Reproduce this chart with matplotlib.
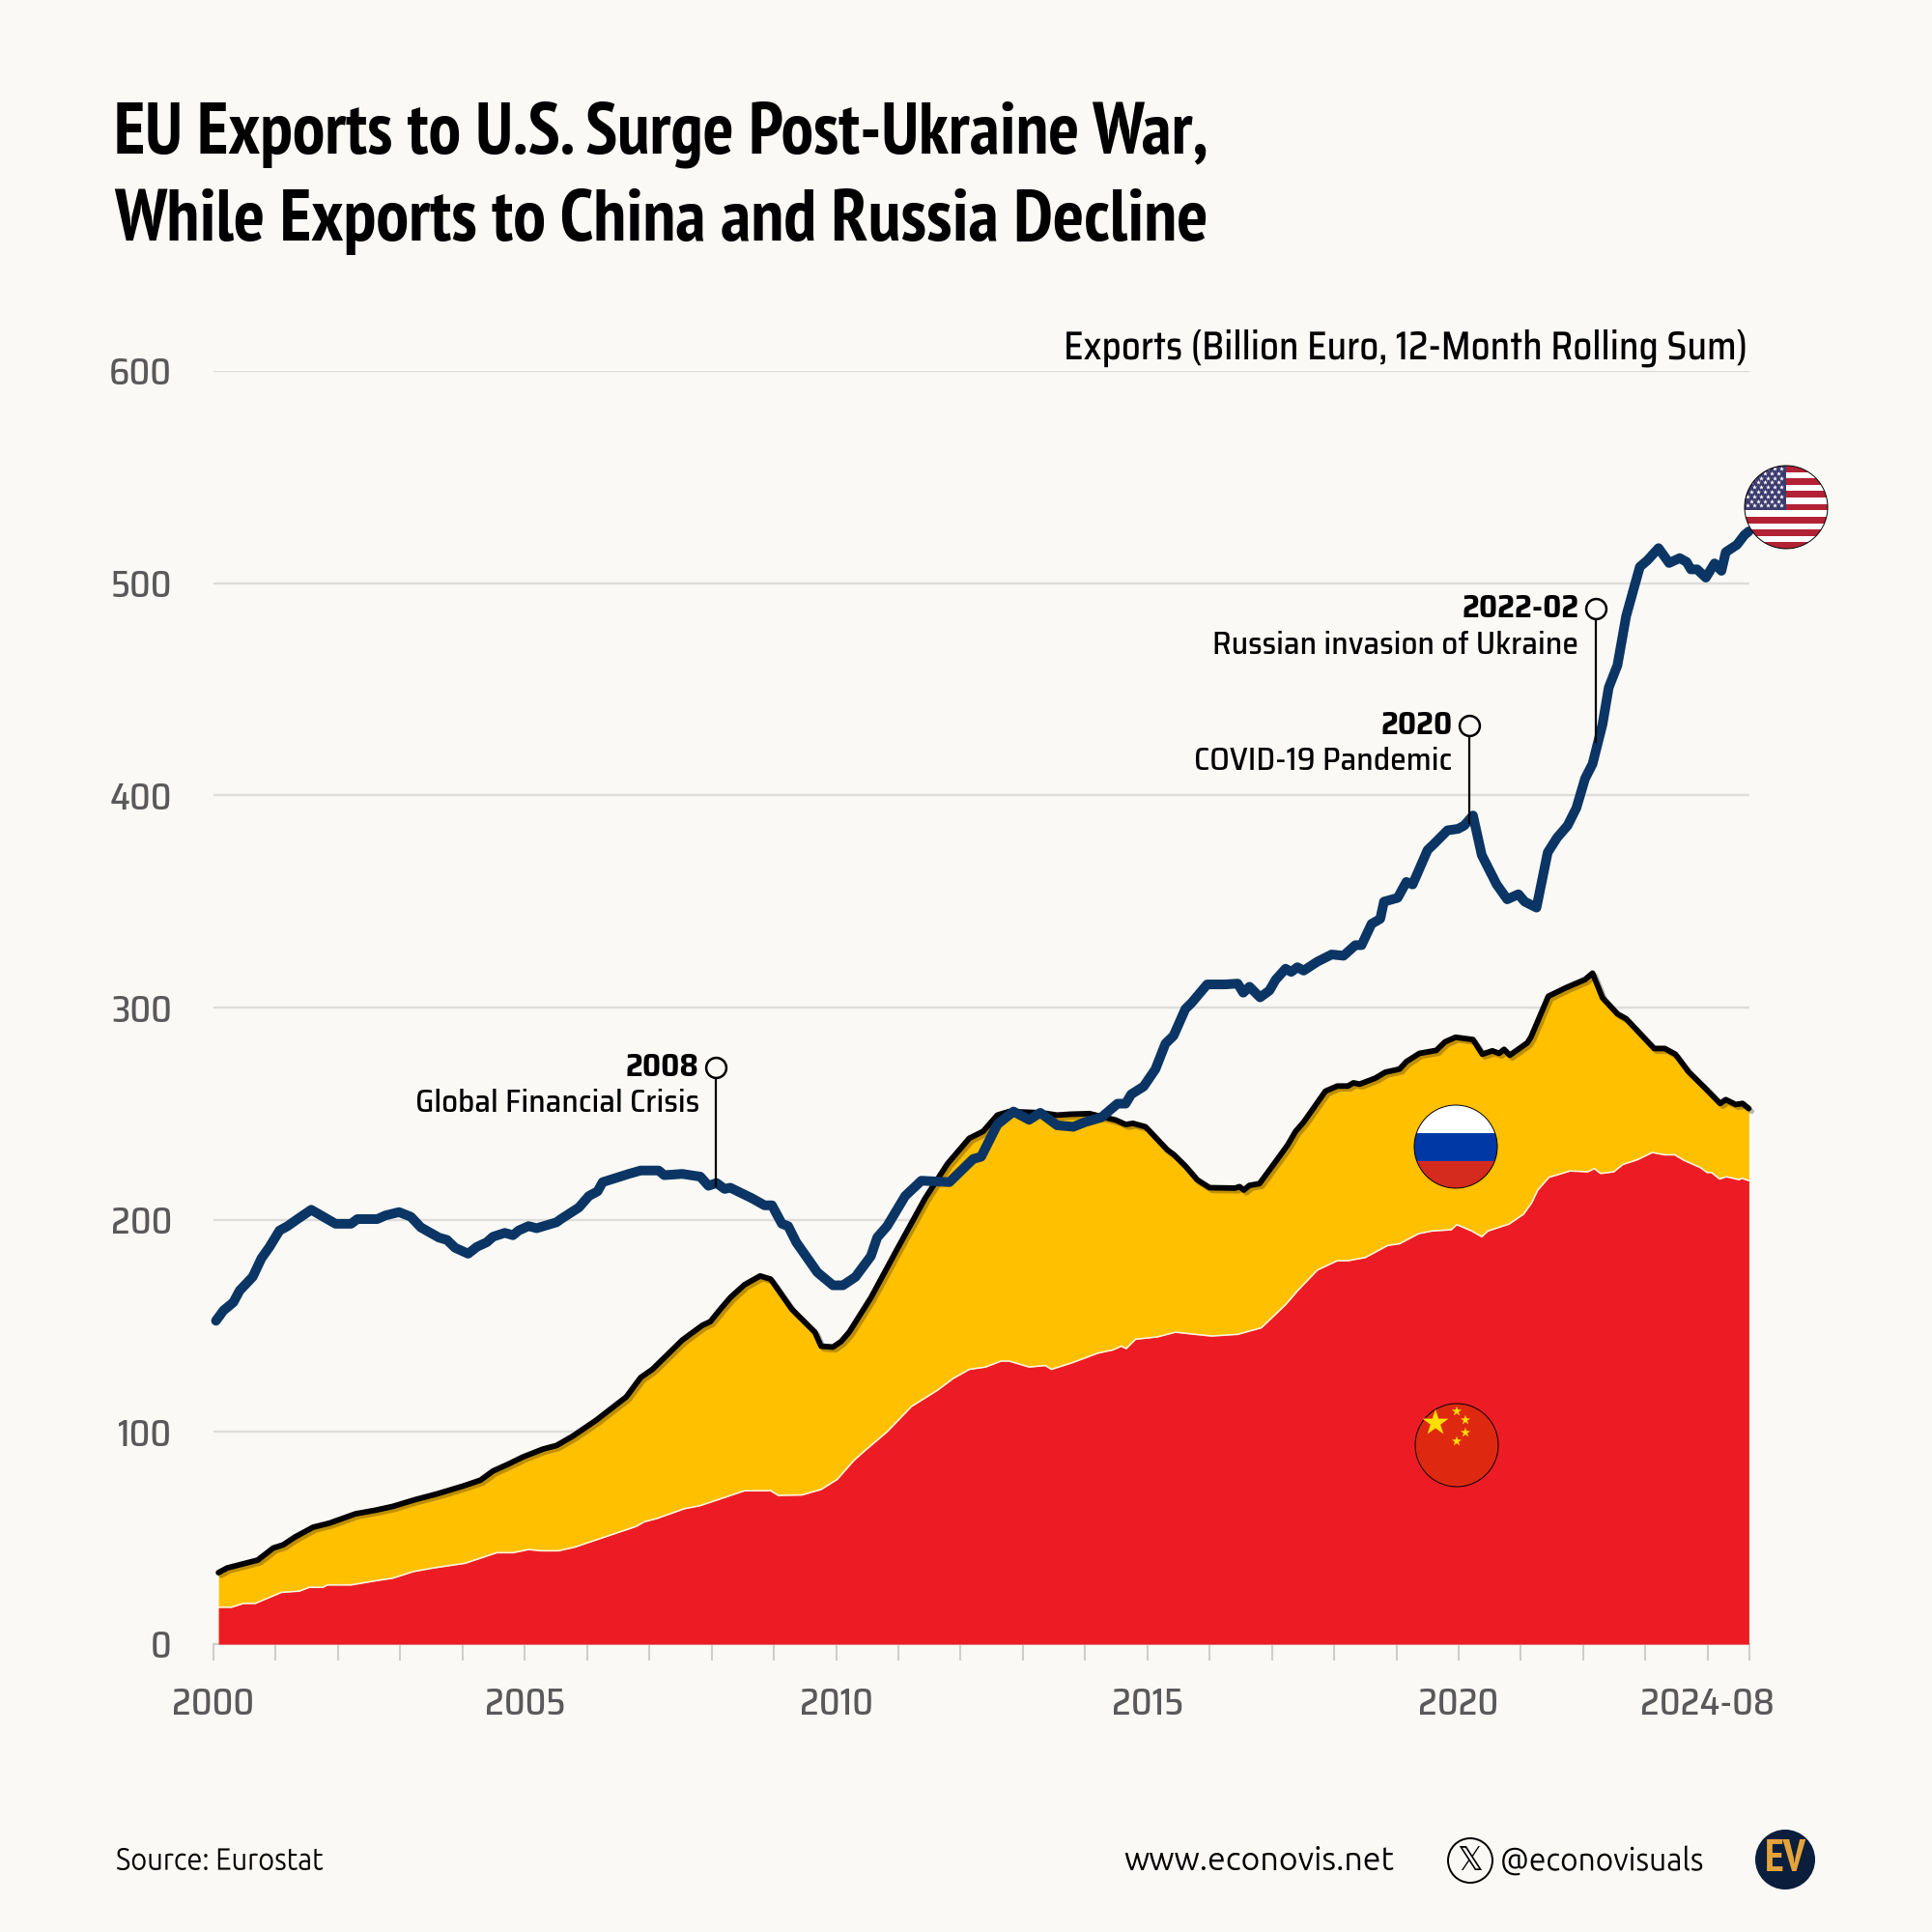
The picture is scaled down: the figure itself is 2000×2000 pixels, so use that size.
import numpy as np
import matplotlib
matplotlib.use("Agg")
from matplotlib import pyplot as plt
from matplotlib import patheffects as pe
from matplotlib.patches import Circle, Rectangle
from matplotlib.transforms import Affine2D

# data (year as decimal, billion euro)
us_years = [2000.04,2000.16,2000.32,2000.42,2000.63,2000.77,2000.90,2001.06,2001.19,2001.35,2001.57,2001.73,2001.96,2002.21,2002.31,2002.63,2002.76,2002.98,2003.17,2003.33,2003.62,2003.75,2003.88,2004.09,2004.23,2004.39,2004.49,2004.68,2004.81,2004.90,2005.06,2005.19,2005.51,2005.58,2005.87,2006.03,2006.17,2006.25,2006.67,2006.86,2007.15,2007.24,2007.53,2007.82,2007.95,2008.08,2008.21,2008.30,2008.65,2008.85,2008.97,2009.13,2009.23,2009.36,2009.70,2009.95,2010.11,2010.31,2010.56,2010.66,2010.82,2011.11,2011.37,2011.82,2012.20,2012.33,2012.59,2012.85,2013.10,2013.28,2013.55,2013.81,2014.00,2014.26,2014.52,2014.65,2014.74,2014.94,2015.13,2015.29,2015.42,2015.61,2015.71,2015.96,2016.25,2016.45,2016.54,2016.64,2016.81,2016.96,2017.06,2017.22,2017.31,2017.41,2017.51,2017.73,2017.96,2018.15,2018.34,2018.44,2018.60,2018.74,2018.80,2019.02,2019.16,2019.26,2019.50,2019.61,2019.82,2019.99,2020.09,2020.23,2020.37,2020.61,2020.78,2020.96,2021.06,2021.25,2021.43,2021.58,2021.75,2021.89,2022.03,2022.15,2022.31,2022.41,2022.55,2022.69,2022.91,2023.03,2023.21,2023.38,2023.55,2023.66,2023.73,2023.83,2023.97,2024.11,2024.22,2024.29,2024.47,2024.59,2024.66]
us_values = [152.4,157.2,161.1,166.6,173.1,181.8,187.2,194.9,197.0,200.3,204.7,202.0,198.1,198.1,200.3,200.3,202.0,203.6,201.4,196.4,191.6,190.5,186.8,184.0,187.2,189.4,192.0,193.8,192.7,194.9,197.0,196.0,198.8,200.3,205.8,211.2,213.4,217.7,221.6,223.2,223.2,221.0,221.6,220.3,216.0,217.3,214.5,215.1,210.1,206.8,206.8,198.1,197.0,189.4,175.2,169.1,169.1,173.0,182.9,191.6,197.0,211.2,218.4,217.7,228.6,229.7,244.9,251.0,247.1,250.4,244.5,243.8,246.0,248.2,254.7,254.7,259.1,262.8,271.0,283.0,286.7,299.3,302.2,310.9,310.9,311.3,307.0,309.8,304.8,308.0,313.1,318.3,316.8,319.0,317.4,321.6,325.0,324.4,329.4,329.4,339.4,341.8,349.9,351.7,359.2,358.0,374.2,377.3,383.5,384.2,385.8,390.5,371.9,358.0,351.0,353.4,349.9,347.1,373.1,380.0,385.8,394.0,407.9,414.8,433.4,450.8,461.3,484.5,507.7,510.7,516.5,509.5,511.8,510.0,506.5,506.5,502.6,509.3,505.8,514.6,518.1,522.7,524.4]

total_years = [2000.08,2000.22,2000.71,2000.96,2001.12,2001.31,2001.60,2001.86,2002.28,2002.60,2002.88,2003.24,2003.59,2004.01,2004.29,2004.49,2004.74,2004.97,2005.29,2005.51,2005.77,2006.15,2006.63,2006.86,2007.05,2007.53,2007.85,2007.98,2008.14,2008.30,2008.53,2008.78,2008.95,2009.29,2009.66,2009.76,2009.95,2010.08,2010.21,2010.56,2010.98,2011.43,2011.79,2012.14,2012.36,2012.59,2012.78,2013.30,2013.55,2013.75,2014.07,2014.49,2014.65,2014.77,2014.97,2015.32,2015.42,2015.61,2015.80,2016.00,2016.41,2016.48,2016.55,2016.64,2016.80,2017.09,2017.25,2017.38,2017.51,2017.86,2018.05,2018.22,2018.31,2018.41,2018.66,2018.82,2019.05,2019.16,2019.37,2019.64,2019.78,2019.95,2020.23,2020.38,2020.54,2020.65,2020.73,2020.82,2021.10,2021.16,2021.44,2021.72,2022.03,2022.15,2022.31,2022.55,2022.69,2023.14,2023.31,2023.48,2023.69,2023.97,2024.20,2024.29,2024.45,2024.56,2024.66]
total_values = [33.7,35.9,39.6,45.3,46.8,50.5,55.1,57.0,61.4,63.1,64.9,68.1,70.8,74.5,77.3,81.6,84.9,88.2,91.9,93.6,98.0,105.6,116.5,125.6,129.5,143.3,150.2,152.0,157.8,163.3,169.4,173.5,172.0,157.8,147.0,140.4,140.0,142.6,147.0,163.3,186.1,210.1,226.4,238.4,241.6,249.3,251.0,250.4,249.3,249.7,250.0,247.0,244.9,245.4,243.8,232.9,230.8,225.3,218.8,215.1,214.9,215.6,214.0,216.2,217.0,228.6,235.1,241.6,246.0,260.6,263.0,263.0,264.5,263.9,266.7,269.5,271.0,274.5,278.4,279.8,283.8,286.0,284.9,278.0,279.6,278.4,280.3,277.5,283.3,286.0,305.3,309.3,313.2,316.2,304.6,297.0,294.7,280.7,280.7,278.0,269.8,261.7,254.8,256.6,254.3,254.8,252.4]

china_years = [2000.08,2000.29,2000.48,2000.67,2001.09,2001.38,2001.54,2001.76,2001.83,2002.21,2002.63,2002.88,2003.21,2003.53,2004.04,2004.55,2004.81,2005.06,2005.26,2005.54,2005.80,2006.79,2006.92,2007.12,2007.56,2007.82,2008.53,2008.95,2009.07,2009.45,2009.76,2010.02,2010.28,2010.47,2010.82,2011.21,2011.63,2011.88,2012.14,2012.40,2012.65,2012.78,2013.10,2013.36,2013.46,2013.81,2014.20,2014.45,2014.58,2014.66,2014.81,2015.16,2015.45,2015.80,2016.03,2016.45,2016.83,2017.22,2017.41,2017.73,2018.05,2018.22,2018.50,2018.86,2019.05,2019.36,2019.57,2019.88,2019.97,2020.21,2020.37,2020.47,2020.81,2021.04,2021.17,2021.27,2021.45,2021.79,2022.07,2022.18,2022.28,2022.49,2022.64,2022.87,2023.11,2023.31,2023.47,2023.62,2023.88,2023.99,2024.06,2024.19,2024.30,2024.50,2024.55,2024.66]
china_values = [17.4,17.4,19.2,19.2,24.4,25.0,26.8,26.8,27.9,27.9,30.0,31.1,34.2,35.9,38.1,43.1,43.1,44.6,44.0,44.0,45.7,55.5,57.7,59.2,63.8,65.3,72.3,72.3,70.1,70.3,72.9,77.7,86.4,91.4,100.1,112.0,119.7,125.2,129.5,130.6,133.4,133.4,130.6,131.3,129.5,132.8,137.1,138.7,140.4,139.3,143.7,144.8,147.0,145.9,145.2,146.0,149.1,160.0,166.5,176.3,180.7,180.7,182.2,187.9,188.7,193.5,194.7,195.3,197.7,194.7,192.0,194.7,198.0,202.6,207.9,214.0,220.0,223.0,222.6,224.1,221.8,222.6,226.1,228.3,231.7,230.6,230.6,228.0,224.6,222.3,222.3,219.2,220.3,218.9,219.5,218.5]

yticks = [0, 100, 200, 300, 400, 500, 600]
xtick_years = [2000, 2005, 2010, 2015, 2020, 2024]
xtick_labels = ["2000", "2005", "2010", "2015", "2020", "2024-08"]

event_years = [2008.07, 2020.17, 2022.2]
event_tops = [272, 433, 488]
event_bottoms = [216, 387, 425]
event_dates = ["2008", "2020", "2022-02"]
event_names = ["Global Financial Crisis", "COVID-19 Pandemic", "Russian invasion of Ukraine"]

BG = "#FAF9F5"
GRID = "#DEDDD9"
NAVY = "#0B3564"
YELLOW = "#FFC000"
RED = "#ED1C24"
GREY = "#595959"
TITLE_FONT = ["PT Sans Narrow", "Liberation Sans", "DejaVu Sans"]
BODY_FONT = ["Saira SemiCondensed", "Noto Sans", "DejaVu Sans"]
FOOT_FONT = ["Ubuntu", "Noto Sans", "DejaVu Sans"]


class Condense(pe.AbstractPathEffect):
    # squeeze glyphs sideways around a pixel column
    def __init__(self, sx, x0):
        super().__init__()
        self.sx = sx
        self.x0 = x0

    def draw_path(self, renderer, gc, tpath, affine, rgbFace=None):
        squeeze = Affine2D().translate(-self.x0, 0).scale(self.sx, 1).translate(self.x0, 0)
        renderer.draw_path(gc, tpath, affine + squeeze, rgbFace)


fig = plt.figure(figsize=(20, 20), dpi=100, facecolor=BG)

# main axes, placed to fall on the reference pixels
ax = fig.add_axes([221/2000, 1 - 1702/2000, (1811-221)/2000, (1702-384)/2000], facecolor="none")
ax.set_xlim(2000, 2024.67)
ax.set_ylim(0, 600)

for s in ["top", "right", "left"]:
    ax.spines[s].set_visible(False)
ax.spines["bottom"].set_color("#CFCECA")
ax.spines["bottom"].set_linewidth(1.5)

ax.set_yticks(yticks)
ax.set_yticklabels([str(v) for v in yticks], fontsize=27, color=GREY, family=BODY_FONT, fontweight="medium")
ax.tick_params(axis="y", length=0, pad=31)
ax.grid(axis="y", color=GRID, linewidth=1.7, zorder=0)
ax.set_axisbelow(True)

ax.set_xticks(xtick_years)
ax.set_xticklabels(xtick_labels, fontsize=27, color=GREY, family=BODY_FONT, fontweight="medium")
ax.set_xticks(list(range(2000, 2025)) + [2024.67], minor=True)
ax.tick_params(axis="x", which="both", length=12, width=1.5, color="#CFCECA", pad=20)

# areas: total first, China on top
ax.fill_between(total_years, total_values, 0, color=YELLOW, linewidth=0, zorder=2)
ax.fill_between(china_years, china_values, 0, color=RED, linewidth=0, zorder=3)
ax.plot(china_years, china_values, color="#FFF4E0", linewidth=1.2, zorder=4)
ax.plot(total_years, total_values, color="black", linewidth=4.2, zorder=5,
        solid_capstyle="round", solid_joinstyle="round", clip_on=False,
        path_effects=[pe.SimpleLineShadow(offset=(2, -2), shadow_color="black", alpha=0.25), pe.Normal()])
ax.plot(us_years, us_values, color=NAVY, linewidth=7.2, zorder=6,
        solid_capstyle="round", solid_joinstyle="round", clip_on=False)

# events
for yr, top, bot, date, name in zip(event_years, event_tops, event_bottoms, event_dates, event_names):
    ax.plot([yr, yr], [bot, top], color="black", linewidth=1.6, zorder=7)
    ax.plot([yr], [top], marker="o", markersize=15, markerfacecolor=BG,
            markeredgecolor="black", markeredgewidth=1.8, zorder=8)
    ax.annotate(date, (yr, top), xytext=(-12.5, 0), textcoords="offset points", ha="right",
                va="center", fontsize=24, fontweight="bold", family=BODY_FONT, color="black", zorder=8)
    ax.annotate(name, (yr, top), xytext=(-12.5, -27), textcoords="offset points", ha="right",
                va="center", fontsize=24, fontweight="medium", family=BODY_FONT, color="black", zorder=8)

# overlay in pixels for title, footer and flags
ov = fig.add_axes([0, 0, 1, 1], facecolor="none")
ov.set_xlim(0, 2000)
ov.set_ylim(2000, 0)
ov.axis("off")

ov.text(118, 158, "EU Exports to U.S. Surge Post-Ukraine War,", fontsize=54, fontweight="bold",
        family=TITLE_FONT, va="baseline", color="black")
ov.text(118, 249, "While Exports to China and Russia Decline", fontsize=54.5, fontweight="bold",
        family=TITLE_FONT, va="baseline", color="black")
ov.text(1809, 372, "Exports (Billion Euro, 12-Month Rolling Sum)", fontsize=30, fontweight="medium",
        family=BODY_FONT, ha="right", va="baseline", color="black", path_effects=[Condense(0.94, 1809)])

ov.text(120, 1926, "Source: Eurostat", fontsize=23, family=FOOT_FONT, va="center", color="black",
        path_effects=[Condense(0.91, 120)])
ov.text(1163, 1926, "www.econovis.net", fontsize=24.4, family=FOOT_FONT, va="center", color="black")
ov.text(1553, 1926, "@econovisuals", fontsize=24, family=FOOT_FONT, va="center", color="black",
        path_effects=[Condense(0.95, 1553)])
ov.add_patch(Circle((1522, 1926), 23, facecolor="none", edgecolor="black", linewidth=1.4))
ov.text(1522, 1926, "\U0001D54F", fontsize=24, family="DejaVu Sans", ha="center", va="center", color="black")
ov.add_patch(Circle((1848, 1925), 31, facecolor="#0B1E3C", edgecolor="none"))
ov.text(1848, 1925, "EV", fontsize=33, fontweight="bold", family=TITLE_FONT, ha="center", va="center",
        color="#E5A33C")


def flag_disc(cx, cy, r=43):
    disc = Circle((cx, cy), r, facecolor="none", edgecolor="black", linewidth=0.7, zorder=12)
    ov.add_patch(disc)
    return disc


def band(disc, x, y, w, h, color):
    rect = Rectangle((x, y), w, h, facecolor=color, edgecolor="none", zorder=11)
    ov.add_patch(rect)
    rect.set_clip_path(disc)


# Russia
cx, cy = 1507, 1187
disc = flag_disc(cx, cy)
band(disc, cx-43, cy-43, 86, 29, "white")
band(disc, cx-43, cy-14, 86, 29, "#0039A6")
band(disc, cx-43, cy+15, 86, 28, "#D52B1E")

# China
cx, cy = 1508, 1496
disc = flag_disc(cx, cy)
band(disc, cx-43, cy-43, 86, 86, "#DE2910")
star_x = [1486, 1508, 1517, 1517, 1508]
star_y = [1473, 1461, 1470, 1483, 1492]
star_s = [420, 60, 60, 60, 60]
ov.scatter(star_x, star_y, s=star_s, marker="*", color="#FFDE00", linewidths=0, zorder=13)

# USA
cx, cy = 1849, 525
disc = flag_disc(cx, cy)
stripe = 86 / 13
for i in range(13):
    band(disc, cx-43, cy-43 + i*stripe, 86, stripe + 0.3, "#B22234" if i % 2 == 0 else "white")
band(disc, cx-43, cy-43, 43, 7*stripe, "#3C3B6E")
sx, sy = [], []
for row in range(9):
    n = 6 if row % 2 == 0 else 5
    off = 0 if row % 2 == 0 else 3.5
    for k in range(n):
        sx.append(cx-40 + off + k*7)
        sy.append(cy-40 + row*4.8)
stars = ov.scatter(sx, sy, s=14, marker="*", color="white", linewidths=0, zorder=11.5)
stars.set_clip_path(disc)

fig.savefig("out.png", dpi=100, facecolor=BG)
